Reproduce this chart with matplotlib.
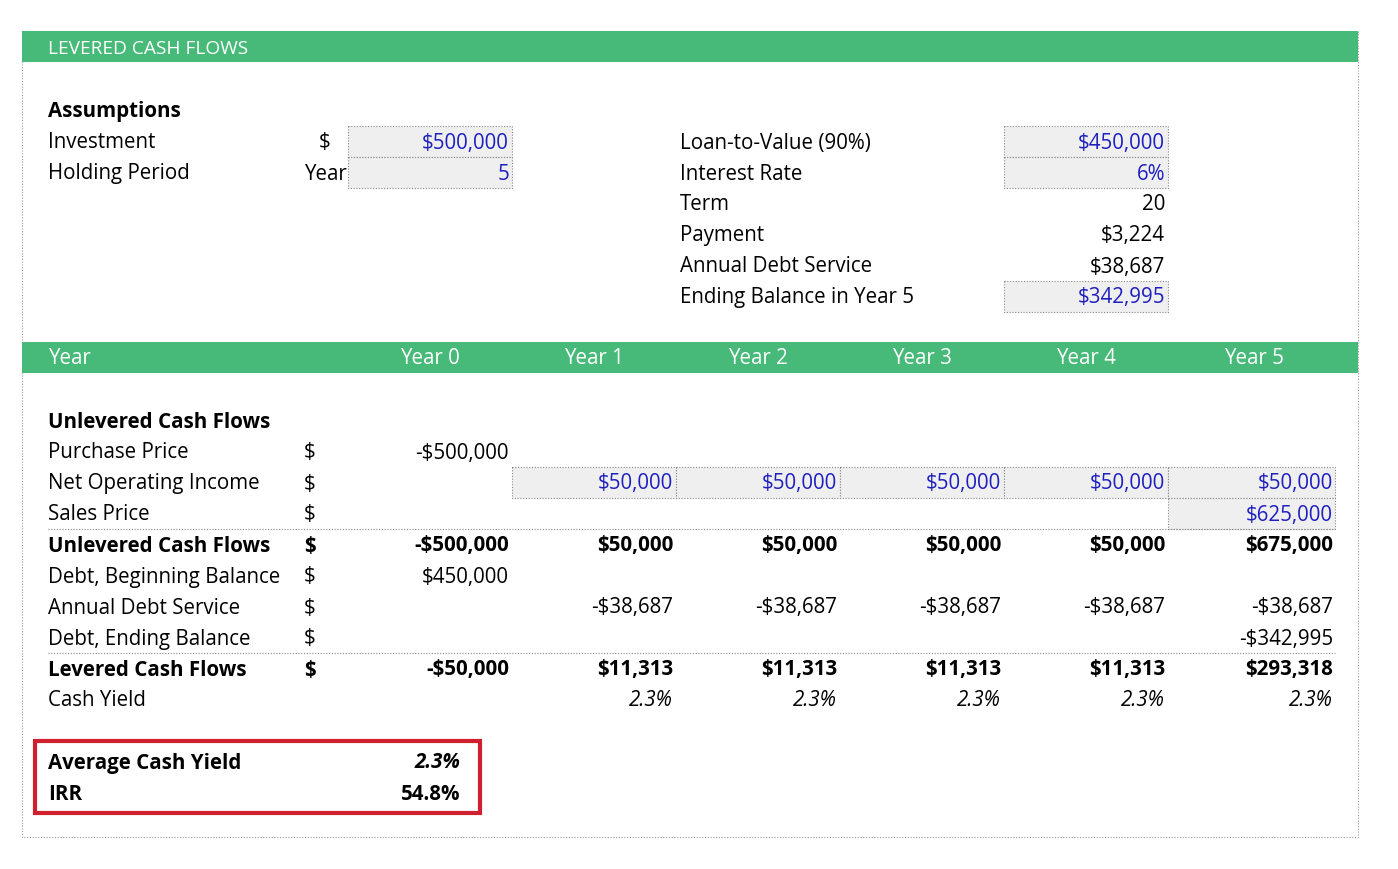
import matplotlib
matplotlib.use("Agg")
import matplotlib.pyplot as plt
from matplotlib.patches import Rectangle

plt.rcParams['font.family'] = ['Open Sans', 'DejaVu Sans']

# data
left_labels = ["Investment", "Holding Period"]
left_units = ["$", "Year"]
left_values = ["$500,000", "5"]
right_labels = ["Loan-to-Value (90%)", "Interest Rate", "Term", "Payment",
                "Annual Debt Service", "Ending Balance in Year 5"]
right_values = ["$450,000", "6%", "20", "$3,224", "$38,687", "$342,995"]
right_input = [True, True, False, False, False, True]
years = ["Year 0", "Year 1", "Year 2", "Year 3", "Year 4", "Year 5"]
row_labels = ["Purchase Price", "Net Operating Income", "Sales Price", "Unlevered Cash Flows",
              "Debt, Beginning Balance", "Annual Debt Service", "Debt, Ending Balance",
              "Levered Cash Flows", "Cash Yield"]
row_bold = [False, False, False, True, False, False, False, True, False]
row_units = ["$", "$", "$", "$", "$", "$", "$", "$", ""]
row_values = [
    ["-$500,000", "", "", "", "", ""],
    ["", "$50,000", "$50,000", "$50,000", "$50,000", "$50,000"],
    ["", "", "", "", "", "$625,000"],
    ["-$500,000", "$50,000", "$50,000", "$50,000", "$50,000", "$675,000"],
    ["$450,000", "", "", "", "", ""],
    ["", "-$38,687", "-$38,687", "-$38,687", "-$38,687", "-$38,687"],
    ["", "", "", "", "", "-$342,995"],
    ["-$50,000", "$11,313", "$11,313", "$11,313", "$11,313", "$293,318"],
    ["", "2.3%", "2.3%", "2.3%", "2.3%", "2.3%"],
]
summary_labels = ["Average Cash Yield", "IRR"]
summary_values = ["2.3%", "54.8%"]
summary_italic = [True, False]

GREEN = "#47B978"
BLUE = "#1F1FBF"
FS = 14.8
DY = 2  # text baseline nudge

fig = plt.figure(figsize=(13.98, 8.69), dpi=100)
ax = fig.add_axes([0, 0, 1, 1])
ax.set_xlim(0, 1398)
ax.set_ylim(869, 0)
ax.axis("off")

def txt(x, y, s, **kw):
    kw.setdefault("fontsize", FS)
    kw.setdefault("va", "center")
    ax.text(x, y + DY, s, **kw)

# frame and bars
ax.add_patch(Rectangle((22, 31), 1336, 806, fill=False, ec="#999999", lw=0.8, ls=(0, (1, 1.5))))
ax.add_patch(Rectangle((22, 31), 1336, 31, color=GREEN, lw=0))
txt(48, 47, "LEVERED CASH FLOWS", color="white", fontsize=FS - 1)
ax.add_patch(Rectangle((22, 342), 1336, 31, color=GREEN, lw=0))
txt(48, 357, "Year", color="white")

def box(x0, y0, w, h):
    ax.add_patch(Rectangle((x0, y0), w, h, fc="#EFEFEF", ec="#888888", lw=0.8, ls=(0, (1, 1.5))))

# assumptions
txt(48, 110, "Assumptions", fontweight="bold")
for i, (lab, u, v) in enumerate(zip(left_labels, left_units, left_values)):
    y = 141 + 31 * i
    box(348, y - 15, 164, 31)
    txt(48, y, lab)
    txt(325 if u == "$" else 304, y, u, ha="center" if u == "$" else "left")
    txt(509, y, v, ha="right", color=BLUE)
for i, (lab, v, inp) in enumerate(zip(right_labels, right_values, right_input)):
    y = 141 + 31 * i
    if inp:
        box(1004, y - 15, 164, 31)
    txt(680, y, lab)
    txt(1165, y, v, ha="right", color=BLUE if inp else "black")

# year header
col_x = [509, 673, 837, 1001, 1165, 1333]
for x, yr in zip(col_x, years):
    txt(x - 79, 357, yr, color="white", ha="center")

# input boxes in the table
for x in col_x[1:]:
    box(x - 161 if x != 1333 else 1168, 467, 164 if x != 1333 else 167, 31)
box(1168, 498, 167, 31)

txt(48, 420, "Unlevered Cash Flows", fontweight="bold")
for i, (lab, b, u, vals) in enumerate(zip(row_labels, row_bold, row_units, row_values)):
    y = 451 + 31 * i
    w = "bold" if b else "normal"
    if b:
        ax.plot([48, 1335], [y - 15, y - 15], color="#888888", lw=0.8, ls=(0, (1, 1.5)))
    txt(48, y, lab, fontweight=w)
    txt(310, y, u, ha="center", fontweight=w)
    for x, v in zip(col_x, vals):
        c = BLUE if i in (1, 2) else "black"
        txt(x, y, v, ha="right", fontweight=w, color=c,
            style="italic" if lab == "Cash Yield" else "normal")

# summary box
ax.add_patch(Rectangle((35, 741), 445, 72, fill=False, ec="#D0202E", lw=3))
for i, (lab, v, it) in enumerate(zip(summary_labels, summary_values, summary_italic)):
    y = 761 + 31 * i
    txt(48, y, lab, fontweight="bold")
    txt(460, y, v, ha="right", fontweight="bold", style="italic" if it else "normal")

fig.savefig("out.png", dpi=100)
